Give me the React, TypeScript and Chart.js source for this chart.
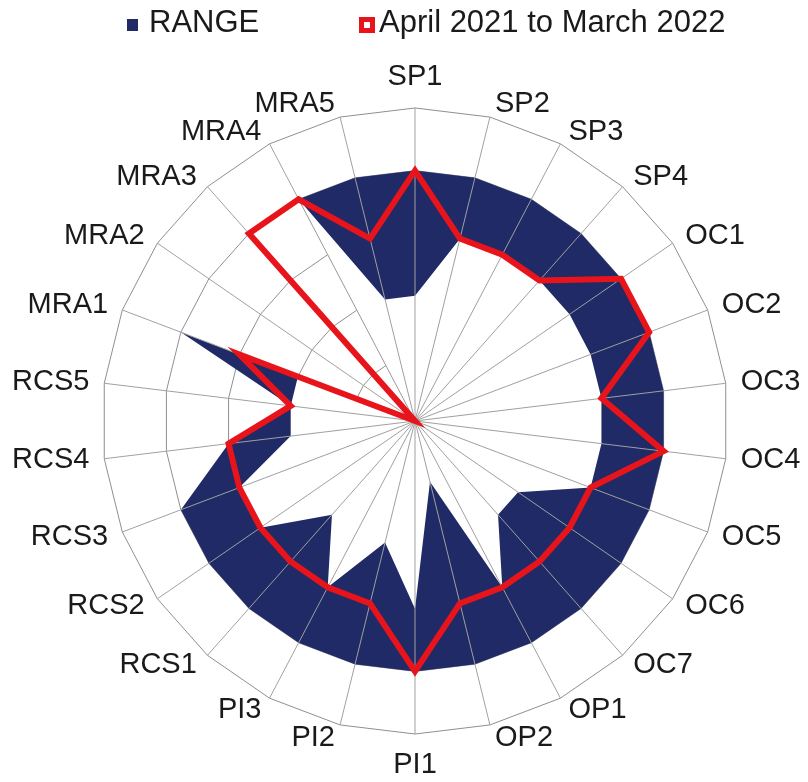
import React, { useEffect, useRef } from 'react';
import Chart from 'chart.js/auto';

const categories = ['SP1','SP2','SP3','SP4','OC1','OC2','OC3','OC4','OC5','OC6','OC7','OP1','OP2','PI1','PI2','PI3','RCS1','RCS2','RCS3','RCS4','RCS5','MRA1','MRA2','MRA3','MRA4','MRA5'];
const rangeMax = [4,4,4,4,4,4,4,4,4,4,4,4,4,4,4,4,4,4,4,3,2,4,0,0,4,4];
const rangeMin = [2,3,3,3,3,3,3,3,3,2,2,3,1,3,2,3,2,3,3,2,2,2,0,0,4,2];
const period = [4,3,3,3,4,4,3,4,3,3,3,3,3,4,3,3,3,3,3,3,2,3,0,4,4,3];
const seriesNames = ['RANGE', 'April 2021 to March 2022'];
const scaleMin = 0;
const scaleMax = 5;
const scaleStep = 1;

const NAVY = '#1f2a66';
const RED = '#e8141b';
const FONT = "'Liberation Sans', Arial, sans-serif";
const LABEL_SIZE = 29;
const LABEL_GAP = 13;

const spokePlugin = {
  id: 'spokesOverFill',
  afterDatasetDraw(chart: any, args: any) {
    if (args.index !== 1) return;
    const scale = chart.scales.r;
    const ctx = chart.ctx;
    ctx.save();
    ctx.strokeStyle = '#a0a0a0';
    ctx.lineWidth = 1;
    for (let i = 0; i < categories.length; i++) {
      const p = scale.getPointPositionForValue(i, scaleMax);
      ctx.beginPath();
      ctx.moveTo(scale.xCenter, scale.yCenter);
      ctx.lineTo(p.x, p.y);
      ctx.stroke();
    }
    ctx.restore();
  },
};

const labelPlugin = {
  id: 'centredPointLabels',
  afterDraw(chart: any) {
    const scale = chart.scales.r;
    const ctx = chart.ctx;
    const n = categories.length;
    ctx.save();
    ctx.font = `${LABEL_SIZE}px ${FONT}`;
    ctx.fillStyle = '#1a1a1a';
    ctx.textBaseline = 'middle';
    for (let i = 0; i < n; i++) {
      const deg = (i * 360) / n;
      const p = scale.getPointPosition(i, scale.drawingArea + LABEL_GAP);
      let x = p.x;
      let y = p.y;
      if (Math.abs(deg) < 0.01) {
        ctx.textAlign = 'center';
        y -= 18;
      } else if (Math.abs(deg - 180) < 0.01) {
        ctx.textAlign = 'center';
        y += 18;
      } else if (deg < 180) {
        ctx.textAlign = 'left';
        x += 2;
      } else {
        ctx.textAlign = 'right';
        x -= 2;
      }
      ctx.fillText(categories[i], x, y);
    }
    ctx.restore();
  },
};

export default function App() {
  const ref = useRef<HTMLCanvasElement>(null);
  useEffect(() => {
    if (!ref.current) return;
    const chart = new Chart(ref.current, {
      type: 'radar',
      data: {
        labels: categories,
        datasets: [
          {
            label: seriesNames[1],
            data: period,
            borderColor: RED,
            borderWidth: 6,
            backgroundColor: 'rgba(0,0,0,0)',
            fill: false,
            pointRadius: 0,
            order: 0,
            borderJoinStyle: 'miter',
          },
          {
            label: 'min',
            data: rangeMin,
            borderWidth: 0,
            borderColor: 'rgba(0,0,0,0)',
            backgroundColor: '#ffffff',
            fill: 'origin',
            pointRadius: 0,
            order: 1,
          },
          {
            label: seriesNames[0],
            data: rangeMax,
            borderWidth: 0,
            borderColor: 'rgba(0,0,0,0)',
            backgroundColor: NAVY,
            fill: 'origin',
            pointRadius: 0,
            order: 2,
          },
        ],
      },
      options: {
        animation: false,
        responsive: true,
        maintainAspectRatio: false,
        layout: { padding: { top: 60, left: 6, right: 0, bottom: 0 } },
        plugins: {
          legend: { display: false },
          tooltip: { enabled: false },
        },
        scales: {
          r: {
            min: scaleMin,
            max: scaleMax,
            ticks: { display: false, stepSize: scaleStep },
            grid: { color: '#8f8f8f', lineWidth: 1 },
            angleLines: { display: false },
            pointLabels: {
              font: { family: FONT, size: LABEL_SIZE },
              color: 'rgba(0,0,0,0)',
              padding: LABEL_GAP,
            },
          },
        },
      },
      plugins: [spokePlugin, labelPlugin],
    });
    return () => chart.destroy();
  }, []);

  return (
    <div style={{ position: 'absolute', left: 0, top: 0, width: 808, height: 782, background: '#fff', fontFamily: FONT }}>
      <canvas ref={ref} style={{ position: 'absolute', left: 0, top: 0 }} />
      <div style={{ position: 'absolute', left: 127, top: 19, width: 11, height: 12, background: NAVY }} />
      <div style={{ position: 'absolute', left: 149, top: 4, fontSize: 31, lineHeight: '36px', color: '#1a1a1a', whiteSpace: 'nowrap' }}>{seriesNames[0]}</div>
      <div style={{ position: 'absolute', left: 359, top: 17, width: 6, height: 6, border: `5px solid ${RED}`, background: '#fff' }} />
      <div style={{ position: 'absolute', left: 379, top: 4, fontSize: 31, lineHeight: '36px', color: '#1a1a1a', whiteSpace: 'nowrap' }}>{seriesNames[1]}</div>
    </div>
  );
}
